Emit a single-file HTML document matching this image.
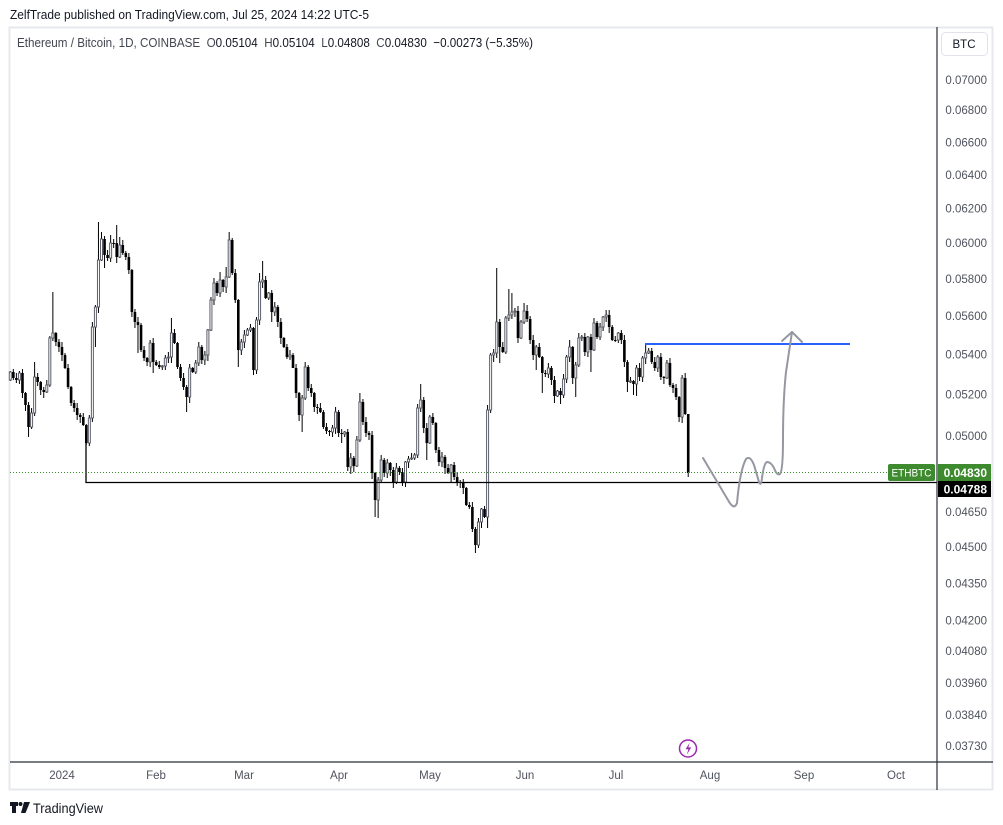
<!DOCTYPE html>
<html>
<head>
<meta charset="utf-8">
<style>
  html,body{margin:0;padding:0;background:#fff;}
  svg{display:block;}
  text{font-family:"Liberation Sans",sans-serif;}
</style>
</head>
<body>
<svg id="chart" width="1003" height="825" viewBox="0 0 1003 825" xmlns="http://www.w3.org/2000/svg">
  <rect x="0" y="0" width="1003" height="825" fill="#ffffff"/>
  <!-- header -->
  <text x="10" y="19" font-size="13" fill="#131722" textLength="359" lengthAdjust="spacingAndGlyphs">ZelfTrade published on TradingView.com, Jul 25, 2024 14:22 UTC-5</text>

  <!-- frame -->
  <rect x="9.5" y="27.5" width="983" height="762" fill="none" stroke="#e6e8ee" stroke-width="2"/>

  <!-- candles group -->
  <g id="candles"></g>

  <!-- horizontal support line -->
  <polyline points="86,443 86,482.5 937,482.5" fill="none" stroke="#000" stroke-width="1.3"/>

  <!-- green dotted last price line -->
  <line x1="10" y1="472.5" x2="888" y2="472.5" stroke="#3e8b2f" stroke-width="1" stroke-dasharray="1,2"/>

  <!-- blue resistance line -->
  <line x1="645" y1="344" x2="850" y2="344" stroke="#2962ff" stroke-width="2"/>

  <!-- gray projection arrow -->
  <path d="M703,458 L728,500 Q734,511 737,503 Q740,470 746,459 Q750,455 754,465 L759,482 Q761,487 762,478 Q764,463 767,462 Q771,462 774,468 Q777,476 780,474 Q783,470 783,440 Q783,400 786,372 L792,332" fill="none" stroke="#9598a1" stroke-width="2" stroke-linecap="round" stroke-linejoin="round"/>
  <path d="M782,341 L792,332 L802,342" fill="none" stroke="#9598a1" stroke-width="2" stroke-linecap="round" stroke-linejoin="round"/>

  <!-- legend -->
  <text x="17" y="47" font-size="13" fill="#434651" textLength="516" lengthAdjust="spacingAndGlyphs" style="white-space:pre" xml:space="preserve">Ethereum / Bitcoin, 1D, COINBASE  O<tspan fill="#131722">0.05104</tspan>  H<tspan fill="#131722">0.05104</tspan>  L<tspan fill="#131722">0.04808</tspan>  C<tspan fill="#131722">0.04830</tspan>  <tspan fill="#131722">−0.00273 (−5.35%)</tspan></text>

  <!-- axes -->
  <line x1="937" y1="27" x2="937" y2="790" stroke="#2a2e39" stroke-width="1.2"/>
  <line x1="10" y1="762" x2="993" y2="762" stroke="#2a2e39" stroke-width="1.2"/>

  <!-- BTC button -->
  <rect x="941.5" y="32.5" width="46" height="23" rx="4" fill="#fff" stroke="#e0e3eb" stroke-width="1"/>
  <text x="964" y="48" font-size="11.5" fill="#131722" text-anchor="middle">BTC</text>

  <!-- price labels -->
  <g font-size="11.5" fill="#50535e" text-anchor="end">
    <text x="987" y="84">0.07000</text>
    <text x="987" y="114">0.06800</text>
    <text x="987" y="146.5">0.06600</text>
    <text x="987" y="179">0.06400</text>
    <text x="987" y="212.5">0.06200</text>
    <text x="987" y="247">0.06000</text>
    <text x="987" y="283">0.05800</text>
    <text x="987" y="320">0.05600</text>
    <text x="987" y="358.5">0.05400</text>
    <text x="987" y="398.5">0.05200</text>
    <text x="987" y="440">0.05000</text>
    <text x="987" y="516">0.04650</text>
    <text x="987" y="551">0.04500</text>
    <text x="987" y="587.5">0.04350</text>
    <text x="987" y="624.5">0.04200</text>
    <text x="987" y="655">0.04080</text>
    <text x="987" y="687">0.03960</text>
    <text x="987" y="719">0.03840</text>
    <text x="987" y="750">0.03730</text>
  </g>

  <!-- ETHBTC label and price tags -->
  <rect x="888" y="464" width="47" height="17" rx="2" fill="#3e8b2f"/>
  <text x="891.5" y="476.5" font-size="11" fill="#fff" textLength="40" lengthAdjust="spacingAndGlyphs">ETHBTC</text>
  <rect x="938" y="464" width="53" height="17" fill="#3e8b2f"/>
  <text x="987" y="477" font-size="12" font-weight="bold" fill="#fff" text-anchor="end">0.04830</text>
  <rect x="938" y="481" width="53" height="16" fill="#000"/>
  <text x="987" y="493.5" font-size="12" font-weight="bold" fill="#fff" text-anchor="end">0.04788</text>

  <!-- time labels -->
  <g font-size="11.5" fill="#50535e" text-anchor="middle">
    <text x="62" y="779">2024</text>
    <text x="156" y="779">Feb</text>
    <text x="244" y="779">Mar</text>
    <text x="339" y="779">Apr</text>
    <text x="430" y="779">May</text>
    <text x="525" y="779">Jun</text>
    <text x="616" y="779">Jul</text>
    <text x="710" y="779">Aug</text>
    <text x="804" y="779">Sep</text>
    <text x="896" y="779">Oct</text>
  </g>

  <!-- lightning event icon -->
  <circle cx="688" cy="748.5" r="8.5" fill="#fff" stroke="#9c27b0" stroke-width="1.5"/>
  <path d="M689.8,742.5 L685.6,749.3 L688.4,749.3 L686.8,754.8 L691.2,747.4 L688.3,747.4 Z" fill="#9c27b0"/>

  <!-- TradingView logo -->
  <g fill="#131722">
    <path d="M10,802 L18,802 L18,806 L16,806 L16,813 L12,813 L12,806 L10,806 Z"/>
    <circle cx="20.5" cy="804" r="2"/>
    <path d="M24,802 L30,802 L25.5,813 L21,813 Z"/>
  </g>
  <text x="33" y="813" font-size="13.5" fill="#131722" textLength="70" lengthAdjust="spacingAndGlyphs">TradingView</text>
</svg>
<script>
(function(){
  var closes = [
  372,378,380,373,393,405,427,413,377,382,
  390,392,385,338,333,342,347,355,368,387,
  403,408,415,417,425,443,
  418,327,307,260,239,255,258,243,243,257,
  245,253,257,270,312,322,325,350,358,362,
  343,362,365,367,366,358,357,333,343,367,
  378,387,397,368,372,363,347,360,355,330,
  300,283,293,280,287,277,240,273,300,350,
  342,335,330,328,370,320,282,280,298,293,
  312,307,322,338,347,357,355,368,393,415,
  398,367,388,393,407,408,412,427,431,432,
  428,412,433,434,432,467,458,466,440,402,
  422,433,435,473,500,480,460,473,463,470,
  482,468,472,482,462,459,458,455,408,400,
  428,443,417,423,450,462,457,468,473,465,
  477,482,483,488,505,507,529,545,522,509,
  517,410,355,353,322,347,352,318,315,312,
  311,338,322,311,319,340,355,347,357,373,
  374,368,380,396,391,395,379,357,347,378,
  365,338,337,352,337,350,323,337,327,317,
  315,327,340,340,333,340,362,382,381,384,
  368,377,358,353,351,362,368,357,377,378,
  363,385,388,397,417,378,414,473];
  var hi = {8:362,14:292,29:222,30:232,33:235,35:225,36:237,53:318,69:272,71:267,72:232,82:273,83:261,
            115:393,135:384,160:268,164:289,165:293,169:303,170:305,184:340,196:310,209:345,210:348,223:414};
  var lo = {6:437,28:347,31:268,42:353,47:373,57:390,58:412,67:305,75:367,80:375,86:322,93:367,96:432,
            108:437,109:443,112:474,120:517,121:518,126:488,130:487,137:460,145:483,153:553,154:548,
            157:528,159:362,161:363,167:343,173:370,175:393,179:403,181:404,186:397,191:372,203:392,
            205:395,206:396,214:380,218:393,219:400,223:477};
  var NS = "http://www.w3.org/2000/svg";
  var g = document.getElementById("candles");
  var prev = 380;
  for (var i=0;i<closes.length;i++){
    var o = prev, c = closes[i];
    prev = c;
    var x = 10.3 + 3.04*i;
    var top = Math.min(o,c), bot = Math.max(o,c);
    var h = top - (1 + (i*7)%5);
    var l = bot + (1 + (i*13)%6);
    if (hi[i] !== undefined) h = Math.min(hi[i], top);
    if (lo[i] !== undefined) l = Math.max(lo[i], bot);
    var wick = document.createElementNS(NS,"line");
    wick.setAttribute("x1",x); wick.setAttribute("x2",x);
    wick.setAttribute("y1",h); wick.setAttribute("y2",l);
    wick.setAttribute("stroke","#000"); wick.setAttribute("stroke-width","1");
    g.appendChild(wick);
    var r = document.createElementNS(NS,"rect");
    var bh = Math.max(bot-top,1);
    if (c < o){
      r.setAttribute("x",x-1); r.setAttribute("y",top);
      r.setAttribute("width",2); r.setAttribute("height",bh);
      r.setAttribute("fill","#fff"); r.setAttribute("stroke","#5d606b"); r.setAttribute("stroke-width","1");
    } else {
      r.setAttribute("x",x-1.3); r.setAttribute("y",top);
      r.setAttribute("width",2.6); r.setAttribute("height",bh);
      r.setAttribute("fill","#000");
    }
    g.appendChild(r);
  }
})();
</script>
</body>
</html>
